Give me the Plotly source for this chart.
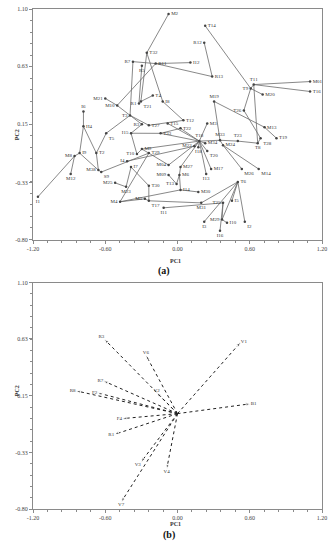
import plotly.graph_objects as go

# ---------------- Panel (a): labelled points joined by lines ----------------
labels = ["M2", "T14", "R12", "R13", "I12", "R11", "R7", "R5", "T32", "T11",
          "T9", "M01", "T16", "M20", "M19", "T26", "M13", "T19", "T28", "T8",
          "T23", "M33", "M24", "M26", "M14", "M3", "T18", "M34", "M22", "I18",
          "T20", "M17", "I13", "T22", "T12", "T33", "T27", "R3", "I15", "T10",
          "M9", "T29", "I4", "I7", "M38", "S9", "M25", "M23", "M4", "M5",
          "T30", "T17", "I11", "M09", "M04", "M27", "M6", "T13", "I14", "M30",
          "T6", "T25", "I5", "M31", "M29", "I10", "I2", "I3", "I16", "M21",
          "M10", "R1", "T21", "T4", "I8", "T3", "I6", "H4", "T5", "I9",
          "M8", "T2", "M12", "I1", "T15"]
pc1 = [-0.074, 0.230, 0.222, 0.288, 0.107, -0.181, -0.370, -0.296, -0.255, 0.633,
       0.608, 1.101, 1.101, 0.707, 0.304, 0.551, 0.723, 0.822, 0.690, 0.666,
       0.501, 0.353, 0.378, 0.534, 0.674, 0.247, 0.181, 0.230, 0.140, 0.173,
       0.247, 0.279, 0.238, 0.025, 0.049, -0.140, -0.238, -0.296, -0.386, -0.337,
       -0.296, -0.238, -0.419, -0.386, -0.657, -0.633, -0.518, -0.427, -0.477, -0.271,
       -0.238, -0.238, -0.115, -0.074, -0.074, 0.025, 0.016, -0.008, 0.025, 0.173,
       0.501, 0.378, 0.452, 0.197, 0.370, 0.411, 0.559, 0.222, 0.353, -0.600,
       -0.501, -0.320, -0.304, -0.205, -0.123, -0.394, -0.781, -0.781, -0.592, -0.813,
       -0.855, -0.674, -0.887, -1.159, -0.082]
pc2 = [1.059, 0.961, 0.821, 0.543, 0.658, 0.650, 0.666, 0.633, 0.739, 0.477,
       0.445, 0.502, 0.420, 0.395, 0.338, 0.264, 0.125, 0.035, 0.035, -0.006,
       0.011, 0.018, -0.023, -0.219, -0.219, 0.157, 0.011, -0.006, -0.031, -0.039,
       -0.071, -0.219, -0.260, 0.116, 0.182, 0.075, 0.141, 0.149, 0.076, -0.096,
       -0.055, -0.088, -0.154, -0.203, -0.228, -0.244, -0.333, -0.366, -0.489, -0.465,
       -0.357, -0.481, -0.539, -0.268, -0.186, -0.203, -0.268, -0.342, -0.391, -0.408,
       -0.325, -0.498, -0.481, -0.498, -0.636, -0.662, -0.653, -0.653, -0.727, 0.363,
       0.305, 0.322, 0.338, 0.387, 0.338, 0.223, 0.256, 0.133, 0.076, -0.088,
       -0.112, -0.088, -0.260, -0.448, 0.157]
edges = [("M2", "T32"), ("T32", "I8"), ("T32", "T21"), ("R7", "R11"), ("R11", "I12"),
         ("R11", "R13"), ("R12", "R13"), ("M10", "R11"), ("R7", "T3"), ("R5", "R1"),
         ("T21", "T4"), ("M21", "M10"), ("M10", "T3"), ("T3", "T27"), ("T27", "T12"),
         ("T3", "R3"), ("I15", "T33"), ("T33", "T22"), ("I8", "T12"),
         ("T18", "T22"), ("T18", "T15"), ("T18", "T33"), ("T18", "M3"), ("T18", "M33"),
         ("T18", "M22"), ("T18", "I18"), ("T18", "T20"), ("T18", "M17"), ("T18", "I13"),
         ("T18", "M34"), ("T18", "M27"), ("T18", "M04"), ("T18", "M9"),
         ("T14", "T9"), ("T9", "T11"), ("T11", "M01"), ("T11", "T16"), ("T9", "M20"),
         ("T9", "T26"), ("T11", "T8"), ("M19", "M33"), ("M19", "M13"), ("T26", "T28"),
         ("M13", "T19"), ("M33", "T23"), ("T23", "T8"), ("T28", "T8"), ("M33", "M24"),
         ("M24", "M26"), ("M24", "M14"),
         ("I6", "H4"), ("H4", "I9"), ("H4", "T2"), ("T5", "T2"), ("T5", "T3"),
         ("M8", "I9"), ("M8", "M12"), ("M8", "I1"), ("I9", "M38"), ("T2", "M38"),
         ("M38", "S9"), ("S9", "T29"), ("I4", "M22"), ("R3", "I15"), ("I15", "T10"),
         ("T10", "M9"), ("M9", "T29"), ("I7", "T30"), ("I7", "M23"), ("M25", "M23"),
         ("M4", "M5"), ("M4", "I14"), ("M4", "T29"), ("M5", "T17"), ("T30", "T17"),
         ("T17", "M31"), ("I11", "T25"), ("T29", "M04"), ("M09", "T13"), ("T13", "M6"),
         ("M27", "M6"), ("M6", "I14"), ("I14", "M30"), ("M31", "T6"), ("T6", "I3"),
         ("T6", "M29"), ("T6", "I5"), ("T6", "I2"), ("T25", "M29"), ("T25", "I16"),
         ("M29", "I10")]

# ---------------- Panel (b): loading vectors ----------------
vec_labels = ["R3", "V6", "R7", "R8", "F2", "V2", "V1", "B1", "F4", "R1", "V3", "V4", "V7"]
vec_pc1 = [-0.608, -0.263, -0.616, -0.846, -0.666, -0.173, 0.526, 0.608, -0.460, -0.526, -0.304, -0.090, -0.468]
vec_pc2 = [0.625, 0.492, 0.275, 0.192, 0.175, 0.175, 0.600, 0.083, -0.042, -0.175, -0.408, -0.467, -0.742]

x_ticks = [-1.2, -0.6, 0.0, 0.6, 1.2]
x_ticktext = ["-1.20", "-0.60", "0.00", "0.60", "1.20"]
y_ticks = [1.10, 0.63, 0.15, -0.33, -0.80]
y_ticktext = ["1.10", "0.63", "0.15", "-0.33", "-0.80"]

# label placement (style only)
left_set = {"R12", "R7", "T9", "T26", "M22", "R3", "I15", "T10", "I4", "M38", "M25",
            "M4", "M5", "M09", "M04", "T13", "T25", "M29", "M10", "R1", "T3", "M8", "M21"}
top_set = {"M19", "T18", "I6", "M33", "T23", "T11"}
bottom_right = {"T17", "T28", "M26", "M14", "T20", "T21", "T5", "I2", "S9"}
bottom_center = {"I18", "I13", "I11", "M31", "I3", "I16", "M12", "I1", "T8", "R5", "M23"}
positions = []
for lab in labels:
    if lab in left_set:
        positions.append("middle left")
    elif lab in top_set:
        positions.append("top center")
    elif lab in bottom_right:
        positions.append("bottom right")
    elif lab in bottom_center:
        positions.append("bottom center")
    else:
        positions.append("middle right")

idx = {lab: i for i, lab in enumerate(labels)}
ex, ey = [], []
for a, b in edges:
    ex += [pc1[idx[a]], pc1[idx[b]], None]
    ey += [pc2[idx[a]], pc2[idx[b]], None]

SERIF = "Liberation Serif, Times New Roman, serif"
fig = go.Figure()
fig.add_trace(go.Scatter(x=ex, y=ey, mode="lines", line=dict(color="#6a6a6a", width=0.8),
                         hoverinfo="skip", xaxis="x", yaxis="y"))
fig.add_trace(go.Scatter(x=pc1, y=pc2, mode="markers+text", text=labels, textposition=positions,
                         textfont=dict(family=SERIF, size=5, color="#333"),
                         marker=dict(size=2.5, color="#444"), cliponaxis=False,
                         xaxis="x", yaxis="y"))

vec_pos = {"R3": "top left", "V6": "top center", "R7": "middle left", "R8": "middle left",
           "F2": "middle left", "V2": "top center", "V1": "middle right", "B1": "middle right",
           "F4": "middle left", "R1": "middle left", "V3": "bottom left", "V4": "bottom center",
           "V7": "bottom center"}
for lab, vx, vy in zip(vec_labels, vec_pc1, vec_pc2):
    fig.add_trace(go.Scatter(x=[0, vx], y=[0, vy], mode="lines+markers",
                             line=dict(color="#222", width=1, dash="dot"),
                             marker=dict(symbol="arrow", size=[0, 5], angleref="previous", color="#222"),
                             hoverinfo="skip", xaxis="x2", yaxis="y2"))
fig.add_trace(go.Scatter(x=vec_pc1, y=vec_pc2, mode="text", text=vec_labels,
                         textposition=[vec_pos[l] for l in vec_labels],
                         textfont=dict(family=SERIF, size=5, color="#333"),
                         cliponaxis=False, xaxis="x2", yaxis="y2"))


def xax(anchor):
    return dict(range=[-1.2, 1.2], tickvals=x_ticks, ticktext=x_ticktext, anchor=anchor,
                showline=True, mirror=True, linecolor="#8a8a8a", linewidth=1,
                ticks="outside", ticklen=3, tickcolor="#8a8a8a", showgrid=False, zeroline=False,
                tickfont=dict(family=SERIF, size=6, color="#444"),
                minor=dict(ticks="outside", ticklen=2, tickcolor="#8a8a8a", tick0=-1.2, dtick=0.12),
                domain=[0, 1])


def yax(anchor, dom):
    return dict(range=[-0.8, 1.1], tickvals=y_ticks, ticktext=y_ticktext, anchor=anchor,
                showline=True, mirror=True, linecolor="#8a8a8a", linewidth=1,
                ticks="outside", ticklen=3, tickcolor="#8a8a8a", showgrid=False, zeroline=False,
                tickfont=dict(family=SERIF, size=6, color="#444"),
                minor=dict(ticks="outside", ticklen=2, tickcolor="#8a8a8a", tick0=-0.8, dtick=0.095),
                domain=dom)


fig.update_layout(
    width=333, height=550, showlegend=False,
    paper_bgcolor="white", plot_bgcolor="white",
    margin=dict(l=33, r=8, t=6, b=41),
    xaxis=xax("y"), yaxis=yax("x", [0.539, 1.0]),
    xaxis2=xax("y2"), yaxis2=yax("x2", [0.0, 0.453]),
    annotations=[
        dict(text="<b>PC1</b>", x=0.493, y=0.497, xref="paper", yref="paper", showarrow=False,
             font=dict(family=SERIF, size=6, color="#333")),
        dict(text="<b>PC1</b>", x=0.493, y=-0.040, xref="paper", yref="paper", showarrow=False,
             font=dict(family=SERIF, size=6, color="#333")),
        dict(text="<b>PC2</b>", x=-0.072, y=0.763, xref="paper", yref="paper", showarrow=False,
             textangle=-90, font=dict(family=SERIF, size=6, color="#333")),
        dict(text="<b>PC2</b>", x=-0.072, y=0.221, xref="paper", yref="paper", showarrow=False,
             textangle=-90, font=dict(family=SERIF, size=6, color="#333")),
        dict(text="<b>(a)</b>", x=0.455, y=0.477, xref="paper", yref="paper", showarrow=False,
             font=dict(family=SERIF, size=10, color="#111")),
        dict(text="<b>(b)</b>", x=0.469, y=-0.068, xref="paper", yref="paper", showarrow=False,
             font=dict(family=SERIF, size=10, color="#111")),
    ],
)

fig.write_html("out.html", config={"displayModeBar": False},
               post_script="document.body.style.margin='0px';")
